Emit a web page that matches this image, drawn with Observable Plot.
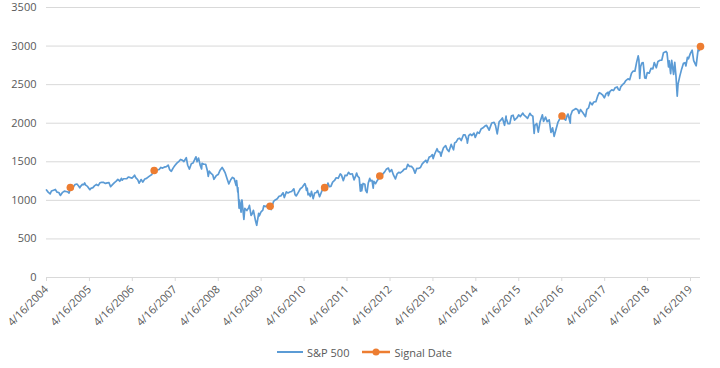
<!DOCTYPE html>
<html><head><meta charset="utf-8">
<script src="https://cdn.jsdelivr.net/npm/d3@7"></script>
<script src="https://cdn.jsdelivr.net/npm/@observablehq/plot@0.6"></script>
<style>
body{margin:0;background:#fff;font-family:"Open Sans",sans-serif;}
#chart svg{display:block;}
#legend{height:28px;display:flex;justify-content:center;align-items:flex-start;gap:12px;font-size:11px;color:#595959;padding-left:8px;box-sizing:border-box;}
#legend .item{display:flex;align-items:center;gap:3px;height:24px;}
</style></head><body>
<div id="chart"></div>
<div id="legend"></div>
<script>
// S&P 500 closes (read from the chart / approximate)
const spDates = [
"2004-04-16","2004-04-30","2004-05-17","2004-05-28","2004-06-15","2004-06-30","2004-07-15","2004-07-30","2004-08-12","2004-08-31","2004-09-15","2004-09-30","2004-10-15","2004-10-25","2004-11-05","2004-11-15","2004-11-30","2004-12-15","2004-12-31",
"2005-01-14","2005-01-24","2005-01-31","2005-02-15","2005-02-28","2005-03-07","2005-03-15","2005-03-31","2005-04-20","2005-04-29","2005-05-16","2005-05-31","2005-06-15","2005-06-30","2005-07-15","2005-07-29","2005-08-15","2005-08-31","2005-09-15","2005-09-30","2005-10-13","2005-10-31","2005-11-15","2005-11-30","2005-12-14","2005-12-30",
"2006-01-13","2006-01-20","2006-01-31","2006-02-15","2006-02-28","2006-03-15","2006-03-31","2006-04-13","2006-04-28","2006-05-05","2006-05-15","2006-05-31","2006-06-13","2006-06-30","2006-07-14","2006-07-31","2006-08-15","2006-08-31","2006-09-15","2006-09-29","2006-10-19","2006-10-31","2006-11-15","2006-11-30","2006-12-15","2006-12-29",
"2007-01-12","2007-01-31","2007-02-15","2007-02-27","2007-03-14","2007-03-30","2007-04-13","2007-04-30","2007-05-15","2007-05-31","2007-06-14","2007-06-29","2007-07-19","2007-07-31","2007-08-15","2007-08-31","2007-09-14","2007-09-28","2007-10-09","2007-10-19","2007-10-31","2007-11-15","2007-11-26","2007-11-30","2007-12-14","2007-12-31",
"2008-01-15","2008-01-22","2008-01-31","2008-02-15","2008-02-29","2008-03-10","2008-03-31","2008-04-15","2008-04-30","2008-05-19","2008-05-30","2008-06-13","2008-06-30","2008-07-15","2008-07-31","2008-08-15","2008-08-29","2008-09-15","2008-09-19","2008-09-29","2008-09-30","2008-10-10","2008-10-13","2008-10-27","2008-10-31","2008-11-04","2008-11-20","2008-11-28","2008-12-15","2008-12-31",
"2009-01-06","2009-01-20","2009-01-30","2009-02-09","2009-02-27","2009-03-09","2009-03-26","2009-03-31","2009-04-15","2009-04-30","2009-05-08","2009-05-29","2009-06-12","2009-06-23","2009-07-01","2009-07-10","2009-07-31","2009-08-14","2009-08-31","2009-09-15","2009-09-30","2009-10-19","2009-10-30","2009-11-16","2009-11-30","2009-12-15","2009-12-31",
"2010-01-19","2010-01-29","2010-02-08","2010-02-26","2010-03-15","2010-03-31","2010-04-23","2010-04-30","2010-05-06","2010-05-13","2010-05-20","2010-05-28","2010-06-08","2010-06-18","2010-07-02","2010-07-15","2010-07-30","2010-08-09","2010-08-26","2010-09-15","2010-09-30","2010-10-08","2010-10-29","2010-11-05","2010-11-16","2010-11-30","2010-12-15","2010-12-31",
"2011-01-14","2011-01-31","2011-02-18","2011-02-28","2011-03-16","2011-03-31","2011-04-15","2011-04-29","2011-05-13","2011-05-31","2011-06-15","2011-06-30","2011-07-07","2011-07-15","2011-07-29","2011-08-08","2011-08-15","2011-08-19","2011-08-31","2011-09-15","2011-09-22","2011-10-03","2011-10-14","2011-10-27","2011-10-31","2011-11-15","2011-11-25","2011-11-30","2011-12-15","2011-12-30",
"2012-01-13","2012-01-20","2012-01-31","2012-02-15","2012-02-29","2012-03-15","2012-04-02","2012-04-13","2012-04-30","2012-05-15","2012-06-01","2012-06-15","2012-06-29","2012-07-13","2012-07-31","2012-08-15","2012-08-31","2012-09-14","2012-09-28","2012-10-15","2012-10-31","2012-11-15","2012-11-30","2012-12-14","2012-12-31",
"2013-01-15","2013-01-31","2013-02-15","2013-02-25","2013-03-15","2013-03-28","2013-04-11","2013-04-18","2013-04-30","2013-05-21","2013-05-31","2013-06-14","2013-06-24","2013-06-28","2013-07-15","2013-08-02","2013-08-15","2013-08-30","2013-09-18","2013-09-30","2013-10-08","2013-10-18","2013-10-31","2013-11-15","2013-11-29","2013-12-13","2013-12-31",
"2014-01-15","2014-01-31","2014-02-03","2014-02-14","2014-02-28","2014-03-14","2014-03-31","2014-04-11","2014-04-30","2014-05-15","2014-05-30","2014-06-13","2014-06-30","2014-07-15","2014-07-31","2014-08-07","2014-08-29","2014-09-18","2014-09-30","2014-10-15","2014-10-31","2014-11-14","2014-11-28","2014-12-16","2014-12-29","2014-12-31",
"2015-01-15","2015-01-30","2015-02-13","2015-02-27","2015-03-11","2015-03-31","2015-04-15","2015-04-30","2015-05-21","2015-05-29","2015-06-15","2015-06-30","2015-07-20","2015-07-31","2015-08-14","2015-08-25","2015-08-31","2015-09-16","2015-09-29","2015-10-15","2015-11-03","2015-11-13","2015-11-30","2015-12-14","2015-12-31",
"2016-01-15","2016-01-29","2016-02-11","2016-02-29","2016-03-15","2016-03-31","2016-04-18","2016-04-29","2016-05-19","2016-05-31","2016-06-08","2016-06-27","2016-06-30","2016-07-15","2016-07-29","2016-08-15","2016-08-31","2016-09-09","2016-09-22","2016-10-14","2016-11-04","2016-11-15","2016-11-30","2016-12-13","2016-12-30",
"2017-01-13","2017-01-31","2017-02-15","2017-03-01","2017-03-15","2017-03-31","2017-04-13","2017-04-28","2017-05-15","2017-05-17","2017-05-31","2017-06-15","2017-06-30","2017-07-14","2017-07-31","2017-08-10","2017-08-21","2017-08-31","2017-09-15","2017-09-29","2017-10-13","2017-10-31","2017-11-15","2017-11-30","2017-12-15","2017-12-29",
"2018-01-12","2018-01-26","2018-02-01","2018-02-08","2018-02-15","2018-02-26","2018-03-09","2018-03-23","2018-04-02","2018-04-13","2018-04-30","2018-05-15","2018-05-31","2018-06-12","2018-06-29","2018-07-13","2018-07-31","2018-08-15","2018-08-29","2018-09-20","2018-09-28","2018-10-11","2018-10-17","2018-10-29","2018-11-07","2018-11-23","2018-12-03","2018-12-14","2018-12-24","2018-12-31",
"2019-01-15","2019-01-31","2019-02-15","2019-02-28","2019-03-08","2019-03-21","2019-03-29","2019-04-15","2019-04-30","2019-05-13","2019-05-31","2019-06-03","2019-06-14","2019-06-20","2019-06-28","2019-07-10"
];
const spValues = [
1134,1107,1084,1121,1132,1141,1106,1102,1064,1104,1120,1115,1108,1095,1167,1184,1174,1205,1212,
1185,1163,1181,1207,1204,1225,1197,1181,1138,1156,1165,1191,1206,1191,1228,1234,1233,1220,1227,1229,1177,1207,1230,1249,1272,1248,
1286,1261,1280,1280,1281,1303,1295,1289,1311,1326,1294,1270,1223,1270,1236,1277,1285,1304,1321,1336,1388,1378,1396,1400,1427,1418,
1430,1438,1457,1399,1377,1421,1452,1482,1501,1530,1522,1503,1553,1455,1406,1474,1484,1527,1565,1500,1549,1451,1407,1481,1468,1468,
1380,1310,1378,1349,1331,1273,1323,1334,1386,1426,1400,1360,1280,1214,1267,1298,1283,1193,1255,1106,1166,899,1003,848,969,1005,752,896,868,903,
935,805,826,870,735,677,833,798,852,873,929,919,946,895,923,880,987,1005,1021,1053,1057,1098,1036,1110,1096,1108,1115,
1150,1074,1057,1104,1150,1169,1217,1187,1128,1157,1071,1089,1050,1117,1022,1096,1102,1127,1047,1125,1141,1165,1183,1225,1178,1181,1236,1258,
1293,1286,1343,1327,1256,1326,1320,1364,1338,1345,1266,1321,1353,1316,1292,1119,1204,1124,1219,1209,1130,1099,1225,1285,1253,1258,1159,1247,1216,1258,
1289,1315,1312,1343,1366,1402,1419,1370,1398,1330,1278,1343,1362,1357,1379,1405,1407,1466,1441,1441,1412,1353,1416,1413,1426,
1472,1498,1520,1488,1561,1569,1593,1542,1598,1669,1631,1626,1573,1606,1682,1710,1661,1633,1725,1682,1656,1745,1757,1798,1806,1775,1848,
1848,1783,1742,1838,1859,1841,1872,1815,1884,1870,1924,1937,1960,1973,1931,1910,2003,2011,1972,1862,2018,2039,2068,1973,2091,2059,
1993,1995,2097,2104,2040,2068,2107,2086,2131,2107,2084,2063,2129,2104,2092,1868,1972,1996,1884,2023,2109,2023,2080,2021,2044,
1880,1940,1829,1932,2015,2060,2094,2065,2040,2097,2119,2001,2099,2162,2174,2190,2171,2128,2177,2133,2085,2180,2199,2272,2239,
2275,2279,2350,2396,2385,2363,2329,2384,2402,2357,2412,2432,2423,2459,2470,2438,2428,2472,2500,2519,2553,2575,2565,2648,2676,2674,
2786,2873,2822,2581,2731,2780,2786,2588,2582,2656,2648,2711,2705,2787,2718,2801,2816,2819,2914,2931,2914,2729,2809,2641,2814,2633,2790,2600,2351,2507,
2610,2704,2776,2784,2743,2855,2834,2905,2946,2812,2752,2744,2887,2954,2942,2993
];
// Signal dates
const signalDates = ["2004-11-05","2006-10-19","2009-07-01","2010-10-08","2012-01-20","2016-04-18","2019-07-10"];
const signalValues = [1167,1388,923,1165,1315,2094,2993];
// Axis ticks
const xTickLabels = ["4/16/2004","4/16/2005","4/16/2006","4/16/2007","4/16/2008","4/16/2009","4/16/2010","4/16/2011","4/16/2012","4/16/2013","4/16/2014","4/16/2015","4/16/2016","4/16/2017","4/16/2018","4/16/2019"];
const yTicks = [0,500,1000,1500,2000,2500,3000,3500];
const seriesNames = ["S&P 500","Signal Date"];
const colors = ["#5B9BD5","#ED7D31"];

const parse = d3.utcParse("%Y-%m-%d");
const sp = spDates.map((d,i)=>({date:parse(d), value:spValues[i]}));
const sig = signalDates.map((d,i)=>({date:parse(d), value:signalValues[i]}));
const tickDates = xTickLabels.map(s=>{const [m,d,y]=s.split("/").map(Number);return new Date(Date.UTC(y,m-1,d));});
const labelOf = new Map(tickDates.map((d,i)=>[+d, xTickLabels[i]]));

const chart = Plot.plot({
  width: 720, height: 340,
  marginLeft: 46, marginRight: 20, marginTop: 7, marginBottom: 63,
  style: {fontFamily: '"Open Sans", sans-serif', fontSize: "11px", color: "#595959", background: "#fff"},
  x: {type: "utc", domain: [parse("2004-04-16"), parse("2019-07-10")]},
  y: {domain: [0, 3500]},
  marks: [
    Plot.gridY(yTicks, {stroke: "#d9d9d9", strokeOpacity: 1, strokeWidth: 1}),
    Plot.axisY(yTicks, {tickSize: 0, tickPadding: 10, label: null, fill: "#595959", fontSize: 11, tickFormat: d => String(d)}),
    Plot.axisX(tickDates, {tickSize: 4, tickPadding: 6, tickRotate: -45, stroke: "#d9d9d9", fill: "#595959", label: null, tickFormat: d => labelOf.get(+d), fontSize: 11}),
    Plot.lineY(sp, {x: "date", y: "value", stroke: colors[0], strokeWidth: 1.7, strokeLinejoin: "round"}),
    Plot.dot(sig, {x: "date", y: "value", r: 3.8, fill: colors[1], stroke: "none"})
  ]
});
document.getElementById("chart").append(chart);

const lg = document.getElementById("legend");
lg.innerHTML =
  `<div class="item"><svg width="28" height="10"><line x1="1" x2="27" y1="5" y2="5" stroke="${colors[0]}" stroke-width="2"/></svg><span>${seriesNames[0]}</span></div>` +
  `<div class="item"><svg width="30" height="10"><line x1="1" x2="29" y1="5" y2="5" stroke="${colors[1]}" stroke-width="2.5"/><circle cx="15" cy="5" r="3.5" fill="${colors[1]}"/></svg><span>${seriesNames[1]}</span></div>`;
</script>
</body></html>
